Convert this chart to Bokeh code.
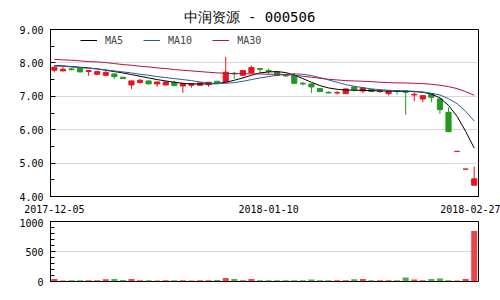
from bokeh.plotting import figure
from bokeh.layouts import column
from bokeh.models import (ColumnDataSource, FixedTicker, SingleIntervalTicker, Range1d,
                          Legend, LegendItem, PrintfTickFormatter)
from bokeh.embed import file_html
from bokeh.resources import INLINE

title_text = "中润资源 - 000506"

dates = ["2017-12-05", "2017-12-06", "2017-12-07", "2017-12-08", "2017-12-11", "2017-12-12",
         "2017-12-13", "2017-12-14", "2017-12-15", "2017-12-18", "2017-12-19", "2017-12-20",
         "2017-12-21", "2017-12-22", "2017-12-25", "2017-12-26", "2017-12-27", "2017-12-28",
         "2017-12-29", "2018-01-02", "2018-01-03", "2018-01-04", "2018-01-05", "2018-01-08",
         "2018-01-09", "2018-01-10", "2018-01-11", "2018-01-12", "2018-01-15", "2018-01-16",
         "2018-01-17", "2018-01-18", "2018-01-19", "2018-01-22", "2018-01-23", "2018-01-24",
         "2018-01-25", "2018-01-26", "2018-01-29", "2018-01-30", "2018-01-31", "2018-02-01",
         "2018-02-02", "2018-02-05", "2018-02-06", "2018-02-07", "2018-02-08", "2018-02-09",
         "2018-02-26", "2018-02-27"]

opens = [7.78, 7.76, 7.82, 7.83, 7.74, 7.66, 7.63, 7.67, 7.57, 7.34,
         7.41, 7.46, 7.37, 7.34, 7.42, 7.31, 7.33, 7.33, 7.35, 7.45,
         7.43, 7.69, 7.63, 7.70, 7.83, 7.77, 7.73, 7.64, 7.62, 7.39,
         7.37, 7.23, 7.12, 7.10, 7.08, 7.28, 7.16, 7.21, 7.15, 7.08,
         7.17, 7.16, 7.04, 6.92, 7.07, 6.92, 6.52, 5.35, 4.82, 4.34]
highs = [7.90, 7.88, 7.85, 7.84, 7.79, 7.76, 7.76, 7.68, 7.58, 7.47,
         7.52, 7.47, 7.44, 7.44, 7.47, 7.39, 7.39, 7.41, 7.43, 7.46,
         8.18, 7.73, 7.78, 7.92, 7.85, 7.83, 7.74, 7.66, 7.70, 7.43,
         7.38, 7.24, 7.15, 7.16, 7.23, 7.30, 7.26, 7.22, 7.20, 7.18,
         7.17, 7.17, 7.12, 7.03, 7.08, 6.97, 6.67, 5.35, 4.82, 4.90]
lows = [7.72, 7.75, 7.77, 7.72, 7.61, 7.64, 7.60, 7.52, 7.52, 7.22,
        7.38, 7.36, 7.28, 7.33, 7.31, 7.10, 7.26, 7.32, 7.28, 7.37,
        7.42, 7.53, 7.62, 7.69, 7.70, 7.67, 7.61, 7.58, 7.37, 7.33,
        7.10, 7.13, 7.09, 7.05, 7.07, 7.15, 7.10, 7.13, 7.10, 7.03,
        7.05, 6.45, 6.85, 6.82, 6.82, 6.47, 5.94, 5.35, 4.82, 4.34]
closes = [7.87, 7.81, 7.80, 7.73, 7.77, 7.74, 7.71, 7.59, 7.53, 7.46,
          7.48, 7.37, 7.43, 7.43, 7.32, 7.38, 7.38, 7.40, 7.42, 7.38,
          7.72, 7.67, 7.77, 7.86, 7.81, 7.75, 7.62, 7.61, 7.39, 7.37,
          7.28, 7.14, 7.10, 7.11, 7.22, 7.20, 7.25, 7.14, 7.16, 7.16,
          7.15, 7.12, 7.06, 7.02, 6.97, 6.60, 5.94, 5.35, 4.82, 4.53]
volumes = [40, 18, 20, 19, 21, 20, 38, 40, 24, 41,
           19, 20, 18, 21, 19, 20, 18, 22, 19, 24,
           58, 40, 19, 41, 20, 19, 21, 20, 22, 19,
           34, 20, 19, 21, 20, 39, 40, 20, 19, 21,
           20, 68, 34, 20, 40, 52, 22, 18, 40, 840]

ma5 = [7.92, 7.91, 7.89, 7.87, 7.85, 7.82, 7.78, 7.74, 7.70, 7.65,
       7.60, 7.55, 7.50, 7.46, 7.42, 7.39, 7.37, 7.37, 7.37, 7.38,
       7.42, 7.48, 7.55, 7.63, 7.70, 7.73, 7.74, 7.71, 7.64, 7.53,
       7.42, 7.32, 7.25, 7.21, 7.19, 7.18, 7.18, 7.17, 7.16, 7.16,
       7.15, 7.15, 7.14, 7.12, 7.07, 6.95, 6.73, 6.40, 5.95, 5.45]
ma10 = [7.91, 7.90, 7.88, 7.86, 7.84, 7.82, 7.79, 7.76, 7.73, 7.70,
        7.66, 7.63, 7.59, 7.56, 7.53, 7.50, 7.47, 7.43, 7.40, 7.38,
        7.39, 7.41, 7.45, 7.50, 7.55, 7.59, 7.63, 7.66, 7.67, 7.66,
        7.62, 7.56, 7.49, 7.42, 7.35, 7.30, 7.26, 7.22, 7.20, 7.18,
        7.17, 7.16, 7.15, 7.13, 7.09, 7.04, 6.93, 6.78, 6.55, 6.26]
ma30 = [8.11, 8.09, 8.08, 8.06, 8.04, 8.03, 8.01, 7.98, 7.95, 7.93,
        7.90, 7.88, 7.85, 7.83, 7.80, 7.78, 7.76, 7.74, 7.72, 7.70,
        7.69, 7.68, 7.68, 7.67, 7.67, 7.66, 7.66, 7.65, 7.63, 7.60,
        7.57, 7.54, 7.51, 7.49, 7.47, 7.46, 7.45, 7.44, 7.42, 7.41,
        7.40, 7.40, 7.39, 7.38, 7.36, 7.33, 7.29, 7.23, 7.14, 7.03]

tick_index = [0, 25, 49]
series_names = ["MA5", "MA10", "MA30"]

UP = "#e8141c"
DOWN = "#229922"
MONO = "DejaVu Sans Mono"

idx = list(range(len(dates)))
colors = [UP if c >= o else DOWN for o, c in zip(opens, closes)]
src = ColumnDataSource(dict(
    x=idx, open=opens, high=highs, low=lows, close=closes,
    top=[max(o, c) for o, c in zip(opens, closes)],
    bottom=[min(o, c) for o, c in zip(opens, closes)],
    color=colors, vol=volumes, ma5=ma5, ma10=ma10, ma30=ma30,
))

xr = Range1d(-0.45, len(dates) - 0.5)

p = figure(width=500, height=218, output_backend="svg", toolbar_location=None,
           x_range=xr, y_range=Range1d(4, 9),
           min_border_left=50, min_border_right=22, min_border_top=29, min_border_bottom=22)
p.title.text = title_text
p.title.align = "left"
p.title.text_font = MONO
p.title.text_font_size = "14px"
p.title.text_font_style = "normal"
p.title.text_color = "black"
p.title.offset = 133
p.outline_line_color = "black"
p.outline_line_alpha = 1
p.background_fill_color = "white"
p.border_fill_color = "white"

p.segment(x0="x", y0="low", x1="x", y1="high", color="color", line_width=1, source=src)
p.vbar(x="x", width=0.6, top="top", bottom="bottom", fill_color="color",
       line_color="color", line_width=1, source=src)

r5 = p.line("x", "ma5", color="black", line_width=1, source=src)
r10 = p.line("x", "ma10", color="#2b5d9b", line_width=1, source=src)
r30 = p.line("x", "ma30", color="#b3124e", line_width=1, source=src)

legend = Legend(items=[LegendItem(label=series_names[0], renderers=[r5]),
                       LegendItem(label=series_names[1], renderers=[r10]),
                       LegendItem(label=series_names[2], renderers=[r30])],
                orientation="horizontal", location=(30, 146),
                border_line_color=None, background_fill_alpha=0,
                glyph_width=17, glyph_height=20, label_standoff=8, spacing=20,
                padding=0, margin=0, label_width=0,
                label_text_font=MONO, label_text_font_size="10px")
p.add_layout(legend)

p.xgrid.visible = False
p.ygrid.grid_line_color = "#d9d9d9"
p.yaxis.ticker = SingleIntervalTicker(interval=1, num_minor_ticks=2)
p.yaxis.formatter = PrintfTickFormatter(format="%.2f")
p.xaxis.ticker = FixedTicker(ticks=tick_index)
p.xaxis.major_label_overrides = {i: dates[i] for i in tick_index}
for ax in (p.xaxis, p.yaxis):
    ax.axis_line_color = "black"
    ax.major_label_text_font = MONO
    ax.major_label_text_font_size = "10px"
    ax.major_label_text_color = "black"
    ax.major_tick_out = 0
    ax.minor_tick_out = 0
p.yaxis.major_tick_in = 5
p.yaxis.minor_tick_in = 4
p.yaxis.major_label_standoff = 7
p.xaxis.major_tick_in = 0
p.xaxis.minor_tick_line_color = None
p.xaxis.major_label_standoff = 8

v = figure(width=500, height=82, output_backend="svg", toolbar_location=None,
           x_range=xr, y_range=Range1d(0, 1000),
           min_border_left=50, min_border_right=22, min_border_top=3, min_border_bottom=19)
v.outline_line_color = "black"
v.outline_line_alpha = 1
v.vbar(x="x", width=0.7, top="vol", bottom=0, fill_color="color", line_color=None,
       fill_alpha=0.8, source=src)
v.xaxis.visible = False
v.xgrid.visible = False
v.ygrid.grid_line_color = "#d9d9d9"
v.yaxis.ticker = SingleIntervalTicker(interval=500, num_minor_ticks=5)
v.yaxis.axis_line_color = "black"
v.yaxis.major_label_text_font = MONO
v.yaxis.major_label_text_font_size = "10px"
v.yaxis.major_label_text_color = "black"
v.yaxis.major_tick_out = 0
v.yaxis.minor_tick_out = 0
v.yaxis.major_tick_in = 5
v.yaxis.minor_tick_in = 4
v.yaxis.major_label_standoff = 7

layout = column(p, v, spacing=0)
open("out.html", "w").write(file_html(layout, INLINE))
